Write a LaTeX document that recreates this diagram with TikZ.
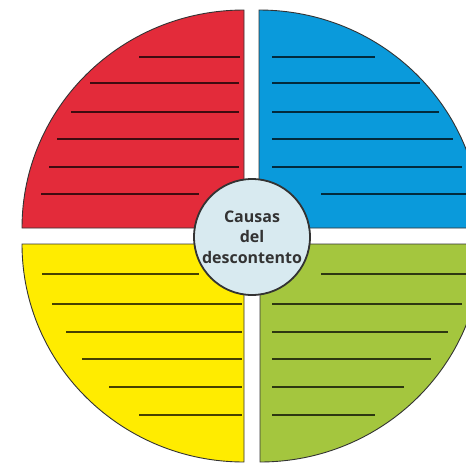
\documentclass[tikz,border=0pt]{standalone}
\usepackage{fontspec}
\setmainfont{Open Sans}
\definecolor{qred}{HTML}{E32B3A}
\definecolor{qblue}{HTML}{0A9ADB}
\definecolor{qyellow}{HTML}{FFEC00}
\definecolor{qgreen}{HTML}{A4C63E}
\definecolor{qcenter}{HTML}{D8EAF0}
\definecolor{qline}{HTML}{333333}
\begin{document}
\begin{tikzpicture}[x=1pt,y=1pt,
  quad/.style={draw=qline,line width=0.9pt},
  wline/.style={draw=black,opacity=0.72,line width=2pt},
  hub/.style={circle,draw=qline,line width=1.8pt,fill=qcenter,minimum size=116pt,inner sep=0pt,
    align=center,font=\fontsize{16}{20.5}\selectfont\bfseries,text=qline}]
\useasboundingbox (0,0) rectangle (466,-466);
\clip (0,0) rectangle (466,-466);
% quadrants
\path[quad,fill=qred] (22,-228) arc[start angle=180,end angle=90,x radius=222,y radius=218] -- (244,-228) -- cycle;
\path[quad,fill=qblue] (259,-10) arc[start angle=90,end angle=0,x radius=222,y radius=218] -- (259,-228) -- cycle;
\path[quad,fill=qyellow] (244,-462) arc[start angle=270,end angle=180,x radius=222,y radius=218] -- (244,-244) -- cycle;
\path[quad,fill=qgreen] (482,-244) arc[start angle=0,end angle=-90,x radius=222,y radius=218] -- (260,-244) -- cycle;
% red lines
\foreach \y/\a/\b in {57/139/240,83/90/239,112/71/239,139/57/239,167/49/239,194/41/199}
  \draw[wline] (\a,-\y) -- (\b,-\y);
% blue lines
\foreach \y/\a/\b in {57/272/375,83/272/420,112/272/439,139/272/453,167/272/462,194/321/470}
  \draw[wline] (\a,-\y) -- (\b,-\y);
% yellow lines
\foreach \y/\a/\b in {274/42/199,304/52/242,332/66/242,359/82/242,387/109/242,415/139/242}
  \draw[wline] (\a,-\y) -- (\b,-\y);
% green lines
\foreach \y/\a/\b in {274/321/470,304/272/462,332/272/448,359/272/431,387/272/404,415/272/375}
  \draw[wline] (\a,-\y) -- (\b,-\y);
% hub
\node[hub] (hub) at (252,-237) {Causas\\del\\descontento};
\end{tikzpicture}
\end{document}
